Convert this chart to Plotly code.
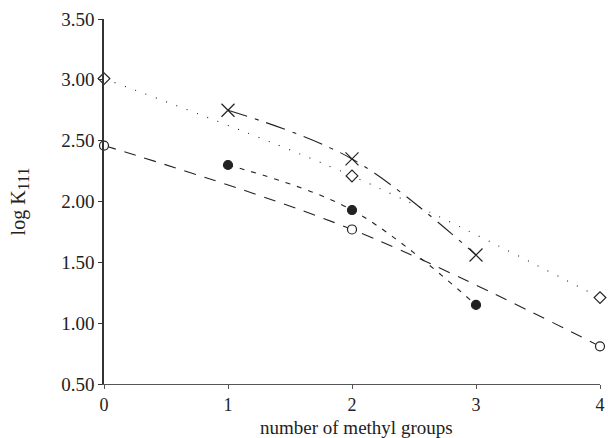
import plotly.graph_objects as go

# number of methyl groups and log K111 values per series
x_diamond = [0, 2, 4]
y_diamond = [3.01, 2.21, 1.21]

x_cross = [1, 2, 3]
y_cross = [2.75, 2.35, 1.56]

x_filled = [1, 2, 3]
y_filled = [2.30, 1.93, 1.15]

x_open = [0, 2, 4]
y_open = [2.46, 1.77, 0.81]

y_ticks = [0.5, 1.0, 1.5, 2.0, 2.5, 3.0, 3.5]
x_ticks = [0, 1, 2, 3, 4]

ink = "#222222"
fig = go.Figure()

def add(xs, ys, dash, symbol, size, fillcolor):
    fig.add_trace(go.Scatter(
        x=xs, y=ys, mode="lines+markers",
        line=dict(color=ink, width=1.1, dash=dash, shape="spline", smoothing=1.0),
        marker=dict(symbol=symbol, size=size, color=fillcolor,
                    line=dict(color=ink, width=1.2)),
        cliponaxis=False, showlegend=False))

add(x_diamond, y_diamond, "1px,10px", "diamond", 9, "white")
add(x_cross, y_cross, "20px,8px,4px,8px", "x-thin", 13, ink)
add(x_filled, y_filled, "5px,7px", "circle", 9, ink)
add(x_open, y_open, "12px,9px", "circle", 9, "white")

font = dict(family="Liberation Serif, Times New Roman, serif", size=19, color="#222222")

fig.update_layout(
    width=608, height=438,
    margin=dict(l=104, r=8, t=19, b=54),
    paper_bgcolor="white", plot_bgcolor="white",
    font=font,
    annotations=[dict(text="number of methyl groups", xref="paper", yref="paper",
                      x=0.51, y=-0.119, xanchor="center", yanchor="middle",
                      showarrow=False, font=dict(size=19))],
)
fig.update_xaxes(
    range=[0, 4], tickvals=x_ticks, ticktext=[str(v) for v in x_ticks],
    tickfont=dict(size=18),
    showline=True, linecolor="#555555", linewidth=1,
    ticks="outside", ticklen=4, tickcolor="#555555",
    showgrid=False, zeroline=False, automargin=False,
)
fig.update_yaxes(
    range=[0.5, 3.5], tickvals=y_ticks, ticktext=[f"{v:.2f}" for v in y_ticks],
    showline=True, linecolor="#333333", linewidth=1.5,
    ticks="outside", ticklen=4, tickcolor="#333333",
    showgrid=False, zeroline=False, automargin=False,
    title=dict(text="log K<sub><span style='font-size:16px'>111</span></sub>",
               font=dict(size=20), standoff=30),
)

fig.write_html("out.html")
